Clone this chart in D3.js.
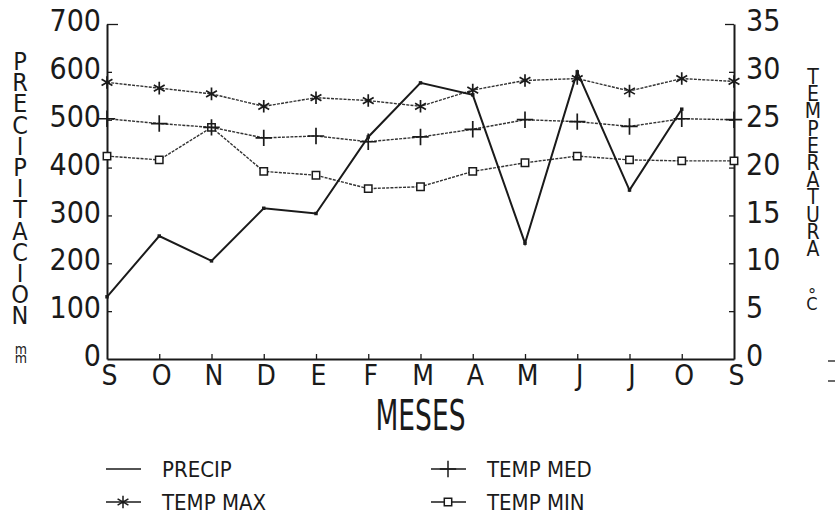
<!DOCTYPE html>
<html>
<head>
<meta charset="utf-8">
<script src="https://cdn.jsdelivr.net/npm/d3@7"></script>
<style>
  html, body { margin: 0; padding: 0; background: #fff; }
  svg { display: block; }
  text { font-family: 'Liberation Sans Narrow', 'DejaVu Sans Condensed', 'Liberation Sans', sans-serif; fill: #1a1a1a; }
  .vert { writing-mode: vertical-rl; text-orientation: upright; }
</style>
</head>
<body>
<svg id="chart" width="835" height="516"></svg>
<script>
// Month initials, September to September
const months = ["S", "O", "N", "D", "E", "F", "M", "A", "M", "J", "J", "O", "S"];
// Monthly precipitation (mm), September to October
const precip = [130, 257, 205, 315, 304, 464, 577, 552, 242, 600, 353, 522];
// Temperatures (°C)
const tempMax = [28.9, 28.3, 27.7, 26.4, 27.3, 27.0, 26.4, 28.1, 29.1, 29.3, 28.0, 29.3, 29.0];
const tempMed = [25.1, 24.6, 24.2, 23.1, 23.3, 22.7, 23.2, 24.0, 25.0, 24.8, 24.3, 25.1, 25.0];
const tempMin = [21.2, 20.8, 24.2, 19.6, 19.2, 17.8, 18.0, 19.6, 20.5, 21.2, 20.8, 20.7, 20.7];
// Axis ticks
const precipTicks = [0, 100, 200, 300, 400, 500, 600, 700];
const tempTicks = [0, 5, 10, 15, 20, 25, 30, 35];
const leftTitle = "PRECIPITACION";
const rightTitle = "TEMPERATURA";
const legendItems = [
  { name: "PRECIP", key: "precip" },
  { name: "TEMP MED", key: "med" },
  { name: "TEMP MAX", key: "max" },
  { name: "TEMP MIN", key: "min" }
];

const svg = d3.select("#chart");
const plotLeft = 107, plotRight = 734, plotTop = 24, plotBottom = 359;
const ink = "#1a1a1a";

const x = d3.scaleLinear().domain([0, months.length - 1]).range([plotLeft, plotRight]);
const yP = d3.scaleLinear().domain([0, 700]).range([plotBottom, plotTop]);
const yT = d3.scaleLinear().domain([0, 35]).range([plotBottom, plotTop]);

// Axes
function styleAxis(g, fontSize) {
  g.selectAll(".domain").attr("stroke", ink).attr("stroke-width", 2);
  g.selectAll(".tick line").attr("stroke", ink).attr("stroke-width", 1.3);
  g.selectAll(".tick text").attr("font-size", fontSize).attr("fill", ink)
    .attr("font-family", "'Liberation Sans Narrow', 'DejaVu Sans Condensed', sans-serif");
}

const gL = svg.append("g").attr("transform", `translate(${plotLeft},0)`)
  .call(d3.axisLeft(yP).tickValues(precipTicks).tickSize(-5).tickSizeOuter(0).tickPadding(6));
styleAxis(gL, 30);
gL.selectAll(".tick text").attr("dy", "0.22em");
gL.selectAll(".tick").filter(d => d === 700).select("line").attr("x2", 11);
gL.selectAll(".tick").filter(d => d === 0).select("line").remove();

const gR = svg.append("g").attr("transform", `translate(${plotRight},0)`)
  .call(d3.axisRight(yT).tickValues(tempTicks).tickSize(-5).tickSizeOuter(0).tickPadding(12));
styleAxis(gR, 30);
gR.selectAll(".tick text").attr("dy", "0.22em");
gR.selectAll(".tick").filter(d => d === 35).select("line").attr("x2", -9);
gR.selectAll(".tick").filter(d => d === 0).select("line").remove();

const gB = svg.append("g").attr("transform", `translate(0,${plotBottom})`)
  .call(d3.axisBottom(x).tickValues(d3.range(months.length)).tickFormat(i => months[i])
    .tickSize(-5).tickSizeOuter(0).tickPadding(6));
styleAxis(gB, 28);
gB.selectAll(".tick").filter(i => i === 0 || i === months.length - 1).select("line").remove();
gB.selectAll(".tick text").attr("dx", 2);

// Axis titles
svg.append("text").attr("x", (plotLeft + plotRight) / 2).attr("y", 430)
  .attr("text-anchor", "middle").attr("font-size", 42)
  .attr("textLength", 90).attr("lengthAdjust", "spacingAndGlyphs")
  .text("MESES");

// Vertical titles: letters stacked one below the other
function vertical(str, cx, y0, size, spacing) {
  return svg.append("text").attr("class", "vert")
    .attr("x", cx).attr("y", y0).attr("font-size", size)
    .style("letter-spacing", `${spacing}px`).text(str);
}
vertical(leftTitle, 20, 47, 25, -7.8);
vertical("mm", 21, 341, 14, -7.2);
vertical(rightTitle, 813, 65, 21, -6.8);
vertical("°C", 812, 284, 18, -12);

// Two short dashes at the right margin
svg.append("g").selectAll("line").data([361, 381]).join("line")
  .attr("x1", 828).attr("x2", 835).attr("y1", d => d).attr("y2", d => d)
  .attr("stroke", ink).attr("stroke-width", 1.3);

// Series
const tempLine = d3.line().x((d, i) => x(i)).y(d => yT(d));
const precipLine = d3.line().x((d, i) => x(i)).y(d => yP(d));

const markers = {
  max: d3.symbol().type(d3.symbolAsterisk).size(110),
  med: d3.symbol().type(d3.symbolPlus).size(90),
  min: d3.symbol().type(d3.symbolSquare2).size(70),
  precip: d3.symbol().type(d3.symbolSquare).size(12)
};

function drawTemp(values, key) {
  svg.append("path").datum(values).attr("d", tempLine)
    .attr("fill", "none").attr("stroke", "#333").attr("stroke-width", 1.4)
    .attr("stroke-dasharray", "3,1.2");
  svg.append("g").selectAll("path").data(values).join("path")
    .attr("transform", (d, i) => `translate(${x(i)},${yT(d)})`)
    .attr("d", markers[key]())
    .attr("fill", key === "min" ? "#fff" : "none")
    .attr("stroke", ink).attr("stroke-width", key === "min" ? 1.5 : 1.7);
}

drawTemp(tempMin, "min");
drawTemp(tempMed, "med");
drawTemp(tempMax, "max");

svg.append("path").datum(precip).attr("d", precipLine)
  .attr("fill", "none").attr("stroke", ink).attr("stroke-width", 2);
svg.append("g").selectAll("path").data(precip).join("path")
  .attr("transform", (d, i) => `translate(${x(i)},${yP(d)})`)
  .attr("d", markers.precip()).attr("fill", ink);

// Legend
const legend = svg.append("g");
legendItems.forEach((item, k) => {
  const col = k % 2, row = Math.floor(k / 2);
  const lx = col === 0 ? 106 : 431;
  const ly = 469 + row * 33;
  const g = legend.append("g").attr("transform", `translate(${lx},${ly})`);
  g.append("line").attr("x1", 0).attr("x2", 35).attr("y1", 0).attr("y2", 0)
    .attr("stroke", ink).attr("stroke-width", 1.4);
  if (item.key !== "precip") {
    g.append("path").attr("transform", "translate(17,0)")
      .attr("d", markers[item.key]())
      .attr("fill", item.key === "min" ? "#fff" : "none")
      .attr("stroke", ink).attr("stroke-width", 1.5);
  }
  g.append("text").attr("x", 56).attr("y", 8).attr("font-size", 22).text(item.name);
});
</script>
</body>
</html>
